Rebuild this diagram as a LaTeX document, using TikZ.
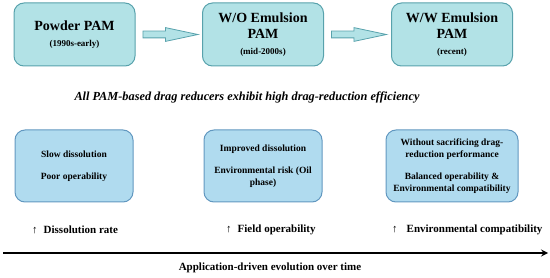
\documentclass[tikz,border=0pt]{standalone}
\usepackage{fontspec}
\setmainfont{Liberation Serif}
\usetikzlibrary{shapes.arrows, positioning}

\definecolor{stagefill}{RGB}{178,226,230}
\definecolor{stageline}{RGB}{88,162,172}
\definecolor{featfill}{RGB}{176,219,239}
\definecolor{featline}{RGB}{98,152,192}

\begin{document}
\begin{tikzpicture}[
    x=1pt, y=-1pt,
    stage/.style     = {rectangle, rounded corners=10pt, draw=stageline,
                        fill=stagefill, line width=1pt, minimum width=121pt,
                        minimum height=63pt, align=center, inner sep=2pt,
                        font=\fontsize{14}{16.5}\selectfont\bfseries},
    feature/.style   = {rectangle, rounded corners=10pt, draw=featline,
                        fill=featfill, line width=1pt, minimum width=118pt,
                        minimum height=72pt, align=center, inner sep=2pt,
                        font=\fontsize{9.5}{11.5}\selectfont\bfseries},
    flowarrow/.style = {single arrow, draw=stageline, fill=stagefill,
                        line width=0.8pt, inner sep=3pt, minimum height=55pt,
                        single arrow head extend=3.5pt,
                        single arrow tip angle=24},
    claim/.style     = {font=\fontsize{12.3}{14}\selectfont\bfseries\itshape},
    trend/.style     = {anchor=west, inner sep=0pt,
                        font=\fontsize{11}{13}\selectfont\bfseries},
    timeline/.style  = {-stealth, line width=2pt},
]
\useasboundingbox (0,0) rectangle (550,278);

% ============================================================
%  STAGES  –  top row, three rounded boxes
% ============================================================
\node[stage] (powder) at (74.5, 34.5)
    {Powder PAM\\[0pt]{\fontsize{9}{11}\selectfont (1990s-early)}};
\node[stage] (wo) at (263, 34.5)
    {W/O Emulsion\\PAM\\[-1pt]{\fontsize{9}{11}\selectfont (mid-2000s)}};
\node[stage] (ww) at (452, 34.5)
    {W/W Emulsion\\PAM\\[-1pt]{\fontsize{9}{11}\selectfont (recent)}};

% block arrows between the stages
\node[flowarrow, right=7pt of powder] (arrA) {};
\node[flowarrow, right=7pt of wo]     (arrB) {};

% ============================================================
%  COMMON CLAIM
% ============================================================
\node[claim] (common) at (247, 97)
    {All PAM-based drag reducers exhibit high drag-reduction efficiency};

% ============================================================
%  FEATURES  –  lower row
% ============================================================
\node[feature] (slow) at (74, 166)
    {Slow dissolution\\[11pt]Poor operability};
\node[feature] (improved) at (263, 166)
    {Improved dissolution\\[11pt]Environmental risk (Oil\\phase)};
\node[feature, minimum width=132pt] (balanced) at (452, 166)
    {Without sacrificing drag-\\reduction performance\\[11pt]Balanced operability \&\\Environmental compatibility};

% ============================================================
%  TRENDS + TIMELINE
% ============================================================
\node[trend] (rate)  at (32, 230)  {↑\hspace{6pt}Dissolution rate};
\node[trend] (field) at (226, 230) {↑\hspace{6pt}Field operability};
\node[trend] (env)   at (392, 230) {↑\hspace{9pt}Environmental compatibility};

\coordinate (tstart) at (3, 253);
\coordinate (tend)   at (548, 253);
\draw[timeline] (tstart) -- (tend);

\node[trend, anchor=center] (evolution) at (270, 268)
    {Application-driven evolution over time};

\end{tikzpicture}
\end{document}
